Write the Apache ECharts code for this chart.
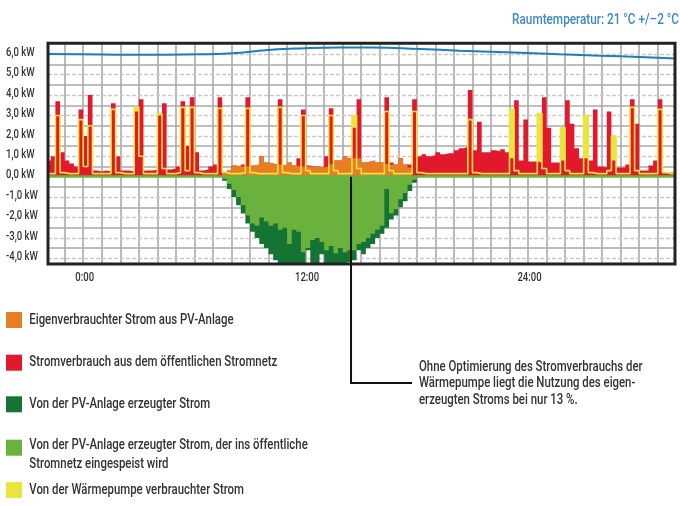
<!DOCTYPE html>
<html>
<head>
<meta charset="utf-8">
<script src="https://cdn.jsdelivr.net/npm/echarts@6/dist/echarts.min.js"></script>
<style>
  html, body { margin: 0; padding: 0; background: #fff; }
  #chart { width: 680px; height: 506px; }
</style>
</head>
<body>
<div id="chart"></div>
<script>
// 15-minute bins, first bin starts at -2:00 (previous evening)
const binStart = -2;
const binStep = 0.25;

// total consumption (red top), kW
const consumption = [
  0.8, 1.0, 3.7, 1.2, 0.8, 0.65, 0.5, 3.3, 2.0, 4.0,
  0.3, 0.25, 0.3, 0.25, 3.6, 1.0, 0.3, 0.3, 0.25, 3.2,
  3.8, 0.3, 0.3, 0.35, 3.0, 3.6, 0.35, 0.4, 0.5, 3.7,
  1.5, 3.9, 1.2, 0.3, 0.35, 0.5, 0.6, 3.9, 0.2, 0.3,
  0.55, 0.5, 0.6, 3.9, 0.55, 0.6, 1.0, 0.7, 0.65, 0.6,
  3.8, 0.55, 0.7, 0.55, 0.9, 3.3, 0.55, 0.5, 0.5, 0.45,
  1.0, 3.35, 0.8, 0.8, 1.0, 0.9, 2.4, 3.8, 0.7, 0.75,
  0.8, 0.7, 0.7, 3.9, 0.7, 0.6, 0.9, 0.6, 0.6, 3.8,
  1.0, 1.1, 1.0, 1.05, 1.2, 1.1, 1.15, 1.15, 1.3, 1.4,
  1.45, 4.25, 1.3, 2.7, 1.2, 1.2, 1.3, 1.25, 1.35, 1.2,
  0.9, 3.75, 0.8, 2.8, 0.75, 0.75, 0.7, 3.9, 2.4, 0.7,
  0.7, 0.8, 3.75, 2.6, 1.4, 0.9, 0.9, 0.8, 3.3, 0.5,
  0.45, 3.2, 0.8, 0.45, 0.45, 0.6, 3.8, 2.6, 0.3, 0.3,
  0.55, 0.8, 3.8, 0.2, 0.2, 0.2
];

// heat pump consumption, kW
const heatPump = [
  0.15, 0.15, 3.0, 0.2, 0.15, 0.15, 0.15, 2.8, 0.5, 2.5,
  0.15, 0.15, 0.15, 0.15, 3.3, 0.2, 0.15, 0.15, 0.15, 3.4,
  1.0, 0.15, 0.15, 0.15, 3.1, 0.4, 0.15, 0.15, 0.2, 3.4,
  0.3, 3.4, 0.2, 0.15, 0.15, 0.15, 0.15, 3.35, 0.2, 0.15,
  0.15, 0.15, 0.2, 3.35, 0.2, 0.15, 0.15, 0.15, 0.15, 0.15,
  3.4, 0.2, 0.15, 0.15, 0.15, 3.0, 0.3, 0.15, 0.15, 0.15,
  0.15, 3.0, 0.3, 0.15, 0.15, 0.15, 3.0, 0.4, 0.15, 0.15,
  0.15, 0.15, 0.15, 3.2, 0.3, 0.15, 0.15, 0.15, 0.15, 3.2,
  0.2, 0.15, 0.15, 0.15, 0.15, 0.15, 0.15, 0.15, 0.15, 0.15,
  0.15, 2.8, 0.2, 0.15, 0.15, 0.15, 0.15, 0.15, 0.15, 0.15,
  3.3, 0.3, 0.15, 0.15, 0.15, 0.15, 3.1, 0.4, 0.15, 0.15,
  0.15, 2.4, 0.3, 0.15, 0.15, 0.15, 3.0, 0.2, 0.15, 0.15,
  0.15, 0.3, 2.0, 0.15, 0.15, 0.15, 3.4, 0.3, 0.15, 0.15,
  0.15, 0.15, 3.3, 0.2, 0.15, 0.15
];

// PV self consumption (orange), starts 7:30
const pvSelfStart = 7.5;
const pvSelf = [
  0.15, 0.3, 0.55, 0.5, 0.5, 0.5, 0.55, 0.6, 1.0, 0.7,
  0.65, 0.6, 0.6, 0.55, 0.7, 0.55, 0.5, 0.5, 0.5, 0.5,
  0.5, 0.45, 0.5, 0.6, 0.8, 0.8, 1.0, 0.9, 0.9, 0.9,
  0.7, 0.75, 0.8, 0.7, 0.65, 0.6, 0.6, 0.6, 0.9, 0.6,
  0.45
];

// PV generation (dark green) and feed-in (light green), start 7:30
const pvStart = 7.5;
const pvGenerated = [
  -0.2, -0.6, -1.0, -1.4, -1.8, -2.3, -2.7, -3.0, -3.3, -3.5,
  -3.8, -4.1, -4.3, -4.3, -4.3, -4.3, -4.3, -4.3, -3.6, -4.3,
  -4.3, -3.8, -4.3, -4.3, -4.3, -4.3, -4.3, -4.2, -4.1, -3.6,
  -3.8, -3.5, -3.3, -3.0, -2.8, -2.5, -2.1, -1.9, -1.5, -1.2,
  -0.7, -0.3
];
const pvFeedIn = [
  -0.1, -0.35, -0.65, -1.0, -1.4, -1.9, -2.3, -2.4, -2.0, -2.2,
  -2.4, -2.3, -2.6, -2.5, -3.3, -2.6, -2.7, -3.7, -3.5, -3.1,
  -3.0, -3.2, -3.6, -3.4, -3.75, -3.5, -3.7, -3.6, -3.6, -3.3,
  -3.2, -3.0, -2.8, -2.6, -2.4, -0.6, -1.8, -1.6, -1.1, -0.8,
  -0.4, -0.15
];

// room temperature trace (drawn in the upper band of the plot)
const tempTimes = [-2, 0, 2.5, 4.5, 6.3, 8.5, 9.5, 11.7, 13.8, 15.6, 18.2, 20.3, 23.6, 25.7, 27.9, 30, 32];
const tempLine = [6.01, 6.0, 5.98, 5.98, 6.0, 6.08, 6.18, 6.29, 6.34, 6.34, 6.26, 6.18, 6.08, 6.0, 5.93, 5.87, 5.79];

const hourLines = [-1, 0, 1, 2, 3, 4, 5, 6, 7, 8, 9, 10, 11, 12, 13, 14, 15, 16, 17, 18, 19, 20, 21, 22, 23, 24, 25, 26, 27, 28, 29, 30, 31];
const kwLines = [-4, -3, -2, -1, 1, 2, 3, 4, 5, 6];
const kwHalfLines = [-3.5, -2.5, -1.5, -0.5, 0.5, 1.5, 2.5, 3.5, 4.5, 5.5];
const kwLabels = [-4, -3, -2, -1, 0, 1, 2, 3, 4, 5, 6];
const timeLabels = [0, 12, 24];

const title = 'Raumtemperatur: 21 °C +/–2 °C';
const annotationAt = 14.45;
const annotationLines = [
  'Ohne Optimierung des Stromverbrauchs der',
  'Wärmepumpe liegt die Nutzung des eigen-',
  'erzeugten Stroms bei nur 13 %.'
];

const names = [
  'Eigenverbrauchter Strom aus PV-Anlage',
  'Stromverbrauch aus dem öffentlichen Stromnetz',
  'Von der PV-Anlage erzeugter Strom',
  'Von der PV-Anlage erzeugter Strom, der ins öffentliche Stromnetz eingespeist wird',
  'Von der Wärmepumpe verbrauchter Strom'
];
const colors = ['#e97d23', '#e2182c', '#157334', '#6ab23d', '#ece43e'];

const FONT = "Roboto, 'Liberation Sans', sans-serif";
const NARROW = 0.76; // squeeze to mimic the condensed face
const G = { left: 48, top: 43.3, width: 627, height: 220.7 };

function steps(start, values) {
  const out = values.map((v, i) => [start + i * binStep, v]);
  out.push([start + values.length * binStep, values[values.length - 1]]);
  return out;
}

function area(name, color, data, z) {
  return {
    name: name, type: 'line', step: 'end', data: data, z: z,
    symbol: 'none', color: color,
    lineStyle: { width: 0 },
    areaStyle: { color: color, opacity: 1 },
    silent: true
  };
}

function label(text, x, y, size, color, align) {
  return {
    type: 'text', x: x, y: y, scaleX: NARROW, z: 100, silent: true,
    style: {
      text: text, x: 0, y: 0, fill: color, align: align || 'left', verticalAlign: 'middle',
      font: '500 ' + size + 'px ' + FONT
    }
  };
}

const solid = { color: '#a9a9a9', width: 1.6, type: 'solid' };
const dashed = { color: '#c9c9c9', width: 1.4, type: [4, 2] };

const gridMarks = []
  .concat(hourLines.map(h => ({ xAxis: h, lineStyle: solid })))
  .concat(kwHalfLines.map(v => ({ yAxis: v, lineStyle: solid })))
  .concat(kwLines.map(v => ({ yAxis: v, lineStyle: dashed })));

const legendRows = [320, 362.7, 404.3, 445.7, 490];

const chart = echarts.init(document.getElementById('chart'), null, { renderer: 'canvas' });

chart.setOption({
  animation: false,
  backgroundColor: '#fff',
  grid: { left: G.left, top: G.top, width: G.width, height: G.height, show: false },
  xAxis: {
    type: 'value', min: -1.9, max: 31.93,
    axisLine: { show: false }, axisTick: { show: false }, splitLine: { show: false },
    axisLabel: { show: false }
  },
  yAxis: {
    type: 'value', min: -4.28, max: 6.54,
    axisLine: { show: false }, axisTick: { show: false }, splitLine: { show: false },
    axisLabel: { show: false }
  },
  series: [
    {
      name: 'gridlines', type: 'line', data: [], silent: true,
      markLine: { silent: true, symbol: 'none', z: 1, label: { show: false }, data: gridMarks }
    },
    area(names[4], colors[4], steps(binStart, heatPump), 2),
    area(names[1], colors[1], steps(binStart, consumption), 2),
    area(names[0], colors[0], steps(pvSelfStart, pvSelf), 2),
    area(names[2], colors[2], steps(pvStart, pvGenerated), 2),
    area(names[3], colors[3], steps(pvStart, pvFeedIn), 2),
    {
      name: names[4] + ' (Linie)', type: 'line', step: 'end', data: steps(binStart, heatPump), z: 3,
      symbol: 'none', color: colors[4], lineStyle: { width: 1.6, color: colors[4] }, silent: true,
      markLine: {
        silent: true, symbol: 'none', z: 4, label: { show: false },
        data: [{ yAxis: 0, lineStyle: { color: '#6ab23d', width: 2.5, type: 'solid' } }]
      }
    },
    {
      name: 'Raumtemperatur', type: 'line', smooth: true, symbol: 'none', z: 4, silent: true,
      data: tempTimes.map((t, i) => [t, tempLine[i]]),
      lineStyle: { color: '#1b7fbb', width: 2 }
    }
  ]
});

// texts and frame, placed through the chart's own scales
const px = (x, y) => chart.convertToPixel({ gridIndex: 0 }, [x, y]);
const graphics = [
  {
    type: 'rect', z: 100, silent: true,
    shape: { x: G.left, y: G.top, width: G.width, height: G.height },
    style: { fill: null, stroke: '#222', lineWidth: 3 }
  },
  label(title, 679, 20, 15.5, '#3d88c8', 'right')
];
kwLabels.forEach(v => {
  const p = px(0, v);
  graphics.push(label(v.toFixed(1).replace('.', ',') + ' kW', 6, p[1] - 1.5, 12.5, '#333'));
});
timeLabels.forEach(h => {
  const p = px(h, 0);
  graphics.push(label(h + ':00', p[0] + 1.5, 277.5, 12.5, '#333', 'center'));
});
names.forEach((n, i) => {
  graphics.push({
    type: 'rect', z: 100, silent: true,
    shape: { x: 6, y: (i === 3 ? 447.7 : legendRows[i]) - 8, width: 16, height: 16 },
    style: { fill: colors[i] }
  });
  const lines = n.replace('öffentliche Stromnetz', 'öffentliche\nStromnetz').split('\n');
  lines.forEach((ln, j) => graphics.push(label(ln, 29.3, legendRows[i] + j * 18.7, 15, '#333')));
});
const a = px(annotationAt, 0);
graphics.push({
  type: 'polyline', z: 100, silent: true,
  shape: { points: [[a[0], a[1]], [a[0], 383], [412, 383]] },
  style: { fill: null, stroke: '#111', lineWidth: 2 }
});
annotationLines.forEach((ln, j) => graphics.push(label(ln, 419, 367 + j * 16.5, 15, '#333')));

chart.setOption({ graphic: graphics });
</script>
</body>
</html>
